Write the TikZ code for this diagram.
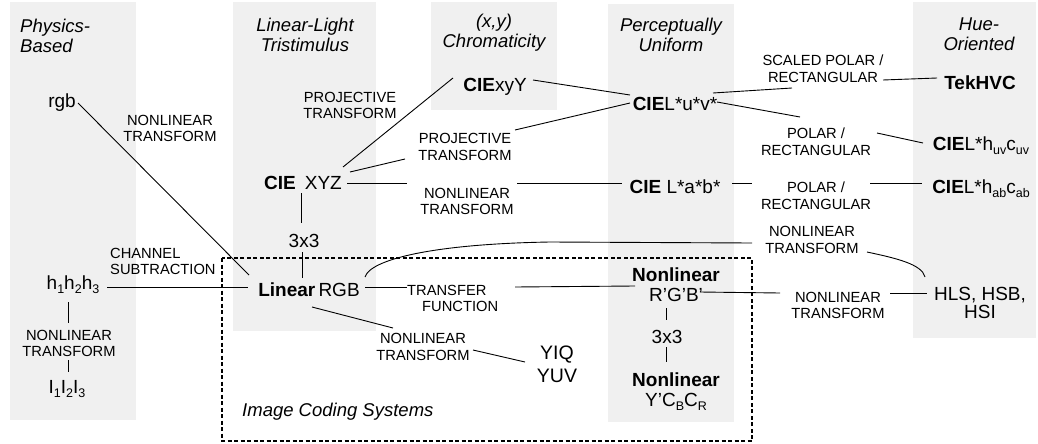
\documentclass[tikz,border=0pt]{standalone}
\usepackage{fontspec}
\setmainfont{Liberation Sans}
\definecolor{panelgray}{RGB}{240,240,240}
\newcommand{\mainf}{\fontsize{19}{22}\selectfont}
\newcommand{\labf}{\fontsize{14.7}{16.5}\selectfont}
\newcommand{\titf}{\fontsize{18.5}{20}\selectfont\itshape}
\newcommand{\sbx}[1]{\raisebox{-0.22em}{\fontsize{12.5}{12.5}\selectfont #1}}
\tikzset{
  panel/.style={fill=panelgray, draw=none},
  mainnode/.style={font=\mainf, inner sep=0pt, align=center},
  lab/.style={font=\labf, inner sep=0pt, align=center},
  titlenode/.style={font=\titf, inner sep=0pt, align=center},
  conn/.style={line width=0.9pt, draw=black},
  dashbox/.style={line width=1.3pt, dash pattern=on 4pt off 2.5pt}
}
\begin{document}
\begin{tikzpicture}[x=1pt,y=-1pt]
\useasboundingbox (0,0) rectangle (1038,444);
% panels
\fill[panel] (10,2) rectangle (136,420);
\fill[panel] (233,2) rectangle (376,331);
\fill[panel] (431,2) rectangle (557,110);
\fill[panel] (608,4) rectangle (734,422);
\fill[panel] (913,2) rectangle (1036,338);
% dashed box
\draw[dashbox] (222,258) rectangle (752,441);
% titles
\node[titlenode, align=left, anchor=west] (t1) at (20,36) {Physics-\\Based};
\node[titlenode] (t2) at (305,35) {Linear-Light\\Tristimulus};
\node[titlenode] (t3) at (494,33) {(x,y)\\Chromaticity};
\node[titlenode] (t4) at (671,35) {Perceptually\\Uniform};
\node[titlenode] (t5) at (979,34) {Hue-\\Oriented};
\node[font=\titf, inner sep=0pt, anchor=base west] (ics) at (242,416) {Image Coding Systems};
% main nodes
\node[mainnode, anchor=base] (rgb) at (62,107) {rgb};
\node[mainnode, anchor=base] (xyz) at (303,189) {\textbf{CIE}\hspace{9pt}XYZ};
\node[mainnode, anchor=base] (xyY) at (495,91) {\textbf{CIE}xyY};
\node[mainnode, anchor=base] (luv) at (675,110) {\textbf{CIE}L*u*v*};
\node[mainnode, anchor=base] (tek) at (980,89) {\textbf{TekHVC}};
\node[mainnode, anchor=base] (lab) at (675,193) {\textbf{CIE} L*a*b*};
\node[mainnode, anchor=base] (huv) at (981,150) {\textbf{CIE}L*h\sbx{uv}c\sbx{uv}};
\node[mainnode, anchor=base] (hab) at (981,193) {\textbf{CIE}L*h\sbx{ab}c\sbx{ab}};
\node[mainnode, anchor=base] (m33a) at (304,247) {3x3};
\node[mainnode, anchor=base] (linrgb) at (309,296) {\textbf{Linear}\,RGB};
\node[mainnode, anchor=base] (hhh) at (73,289) {h\sbx{1}h\sbx{2}h\sbx{3}};
\node[mainnode, anchor=base] (iii) at (67,393) {I\sbx{1}I\sbx{2}I\sbx{3}};
\node[mainnode, font=\fontsize{19.5}{23}\selectfont] (yiq) at (557,364) {YIQ\\YUV};
\node[mainnode, font=\fontsize{19}{20}\selectfont] (nrgb) at (676,285) {\textbf{Nonlinear}\\R’G’B’};
\node[mainnode, anchor=base] (m33b) at (667,343) {3x3};
\node[mainnode, font=\fontsize{19}{20}\selectfont] (ycc) at (676,392) {\textbf{Nonlinear}\\Y’C\sbx{B}C\sbx{R}};
\node[mainnode, font=\fontsize{19}{18}\selectfont] (hls) at (980,303) {HLS, HSB,\\HSI};
% labels
\node[lab] (l1) at (170,128.5) {NONLINEAR\\TRANSFORM};
\node[lab] (l2) at (350,105.5) {PROJECTIVE\\TRANSFORM};
\node[lab] (l3) at (465,147) {PROJECTIVE\\TRANSFORM};
\node[lab] (l4) at (467,201.5) {NONLINEAR\\TRANSFORM};
\node[lab] (l5) at (823,68.5) {SCALED POLAR /\\RECTANGULAR};
\node[lab] (l6) at (816,141.5) {POLAR /\\RECTANGULAR};
\node[lab] (l7) at (816,195.5) {POLAR /\\RECTANGULAR};
\node[lab, align=left, anchor=west] (l8) at (110,261.5) {CHANNEL\\SUBTRACTION};
\node[lab] (l9) at (69,343.5) {NONLINEAR\\TRANSFORM};
\node[lab, align=left, anchor=west] (l10) at (407,298.5) {TRANSFER\\\hspace*{15pt}FUNCTION};
\node[lab] (l11) at (812,240) {NONLINEAR\\TRANSFORM};
\node[lab] (l12) at (838,305.5) {NONLINEAR\\TRANSFORM};
\node[lab] (l13) at (423,347) {NONLINEAR\\TRANSFORM};
% connector end points
\coordinate (a1) at (78,103);   \coordinate (a2) at (249,275);
\coordinate (b1) at (343,167);  \coordinate (b2) at (453,78);
\coordinate (c1) at (350,172);  \coordinate (c2) at (405,159);
\coordinate (c3) at (515,130);  \coordinate (c4) at (630,103);
\coordinate (d1) at (533,80);   \coordinate (d2) at (630,95);
\coordinate (e1) at (347,183);  \coordinate (e2) at (407,183);
\coordinate (e3) at (517,183);  \coordinate (e4) at (622,183);
\coordinate (f1) at (713,93);   \coordinate (f2) at (792,88);
\coordinate (f3) at (883,80);   \coordinate (f4) at (937,78);
\coordinate (g1) at (717,102);  \coordinate (g2) at (800,117);
\coordinate (g3) at (877,133);  \coordinate (g4) at (923,143);
\coordinate (h1) at (732,183);  \coordinate (h2) at (752,183);
\coordinate (h3) at (870,183);  \coordinate (h4) at (922,183);
\coordinate (i1) at (301,193);  \coordinate (i2) at (301,223);
\coordinate (i3) at (302,252);  \coordinate (i4) at (302,278);
\coordinate (j1) at (107,287);  \coordinate (j2) at (248,287);
\coordinate (k1) at (68,302);   \coordinate (k2) at (68,323);
\coordinate (k3) at (68,360);   \coordinate (k4) at (68,372);
\coordinate (m1) at (365,287);  \coordinate (m2) at (407,287);
\coordinate (m3) at (515,287);  \coordinate (m4) at (635,286);
\coordinate (n1) at (700,292);  \coordinate (n2) at (780,293);
\coordinate (n3) at (890,293);  \coordinate (n4) at (927,293);
\coordinate (o1) at (666,308);  \coordinate (o2) at (666,320);
\coordinate (o3) at (666,347);  \coordinate (o4) at (666,362);
\coordinate (q1) at (312,307);  \coordinate (q2) at (393,328);
\coordinate (q3) at (473,350);  \coordinate (q4) at (525,362);
\coordinate (r1) at (365,277);  \coordinate (r2) at (550,242);
\coordinate (r3) at (752,243);
\coordinate (s1) at (867,252);  \coordinate (s2) at (925,277);
% connectors
\draw[conn] (a1) -- (a2);
\draw[conn] (b1) -- (b2);
\draw[conn] (c1) -- (c2);
\draw[conn] (c3) -- (c4);
\draw[conn] (d1) -- (d2);
\draw[conn] (e1) -- (e2);
\draw[conn] (e3) -- (e4);
\draw[conn] (f1) -- (f2);
\draw[conn] (f3) -- (f4);
\draw[conn] (g1) -- (g2);
\draw[conn] (g3) -- (g4);
\draw[conn] (h1) -- (h2);
\draw[conn] (h3) -- (h4);
\draw[conn] (i1) -- (i2);
\draw[conn] (i3) -- (i4);
\draw[conn] (j1) -- (j2);
\draw[conn] (k1) -- (k2);
\draw[conn] (k3) -- (k4);
\draw[conn] (m1) -- (m2);
\draw[conn] (m3) -- (m4);
\draw[conn] (n1) -- (n2);
\draw[conn] (n3) -- (n4);
\draw[conn] (o1) -- (o2);
\draw[conn] (o3) -- (o4);
\draw[conn] (q1) -- (q2);
\draw[conn] (q3) -- (q4);
\draw[conn] (r1) .. controls (370,260) and (430,244) .. (r2) -- (r3);
\draw[conn] (s1) .. controls (895,258) and (922,264) .. (s2);
\end{tikzpicture}
\end{document}
